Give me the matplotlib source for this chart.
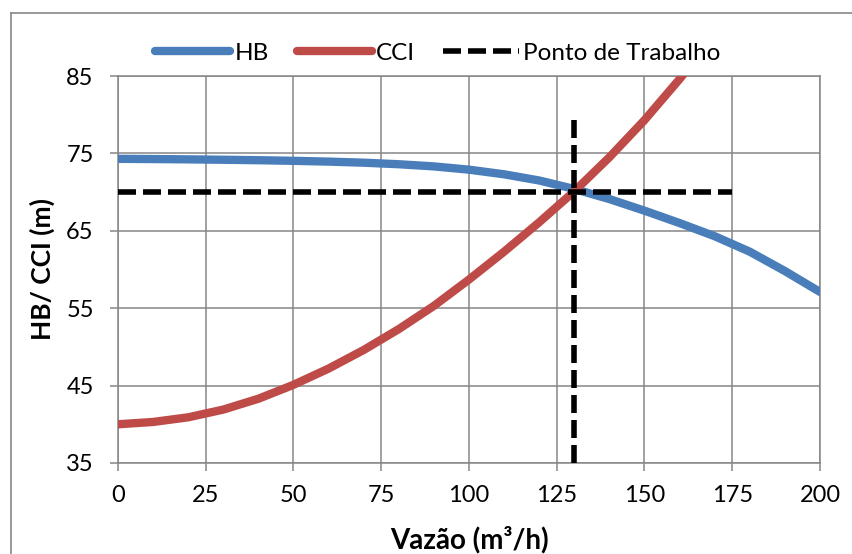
import matplotlib
matplotlib.use("Agg")
import matplotlib.pyplot as plt
from matplotlib.lines import Line2D

plt.rcParams['font.family'] = ['Lato', 'DejaVu Sans']

# flow (m3/h) and curves
vazao = [0, 10, 20, 30, 40, 50, 60, 70, 80, 90, 100,
         110, 120, 130, 140, 150, 160, 170, 180, 190, 200]
hb = [74.3, 74.27, 74.23, 74.18, 74.12, 74.04, 73.94, 73.8, 73.6, 73.32, 72.9,
      72.3, 71.5, 70.4, 69.1, 67.6, 66.0, 64.3, 62.3, 59.8, 57.1]
vazao_cci = [0, 10, 20, 30, 40, 50, 60, 70, 80, 90, 100,
             110, 120, 130, 140, 150, 160, 170]
cci = [40.0, 40.3, 40.9, 41.9, 43.3, 45.1, 47.2, 49.6, 52.3, 55.3, 58.7,
       62.3, 66.1, 70.1, 74.5, 79.3, 84.6, 90.3]

# operating point
q_trab = 130
h_trab = 70
x_ticks = [0, 25, 50, 75, 100, 125, 150, 175, 200]
y_ticks = [35, 45, 55, 65, 75, 85]

grid_col = '#868686'
dash = (0, (3.24, 1.26))

fig = plt.figure(figsize=(8.52, 5.54), dpi=100)
ax = fig.add_axes([0.1385, 0.1643, 0.8239, 0.6985])

ax.plot(vazao, hb, color='#4A7EBB', lw=6, label='HB', solid_capstyle='round', zorder=3)
ax.plot(vazao_cci, cci, color='#BE4B48', lw=6, label='CCI', solid_capstyle='round', zorder=3)
ax.plot([0, 175], [h_trab, h_trab], color='black', lw=4, ls=dash,
        dash_capstyle='butt', label='Ponto de Trabalho', zorder=4)
ax.plot([q_trab, q_trab], [35, 80], color='black', lw=4, ls=dash,
        dash_capstyle='butt', zorder=4)

ax.set_xlim(0, 200)
ax.set_ylim(35, 85)
ax.set_xticks(x_ticks)
ax.set_yticks(y_ticks)
ax.grid(True, color=grid_col, lw=1.1)
ax.set_axisbelow(True)
for s in ax.spines.values():
    s.set_color(grid_col)
    s.set_linewidth(1.1)
ax.tick_params(axis='both', length=6, width=1.1, color=grid_col, labelsize=17)
ax.tick_params(axis='x', pad=9.5)
ax.tick_params(axis='y', pad=11.5)

fig.text(469.5 / 852, 1 - 540 / 554, 'Vazão (m³/h)', fontsize=20, fontweight='bold',
         ha='center', va='center')
fig.text(42 / 852, 1 - 269 / 554, 'HB/ CCI (m)', fontsize=19, fontweight='bold',
         ha='center', va='center', rotation=90)

leg = ax.legend(loc='center left', bbox_to_anchor=(155 / 852, 1 - 53 / 554),
                bbox_transform=fig.transFigure, ncol=3, frameon=False,
                fontsize=17.5, handlelength=3.1, handletextpad=0.17, columnspacing=1.15,
                borderpad=0, borderaxespad=0)
for h in leg.get_lines():
    h.set_solid_capstyle('round')

# chart area border (left and top edges visible)
fig.add_artist(Line2D([11 / 852, 11 / 852], [0, 1 - 13 / 554], color='#888888', lw=1.2))
fig.add_artist(Line2D([11 / 852, 1], [1 - 13 / 554, 1 - 13 / 554], color='#888888', lw=1.2))

fig.savefig('out.png', dpi=100)
